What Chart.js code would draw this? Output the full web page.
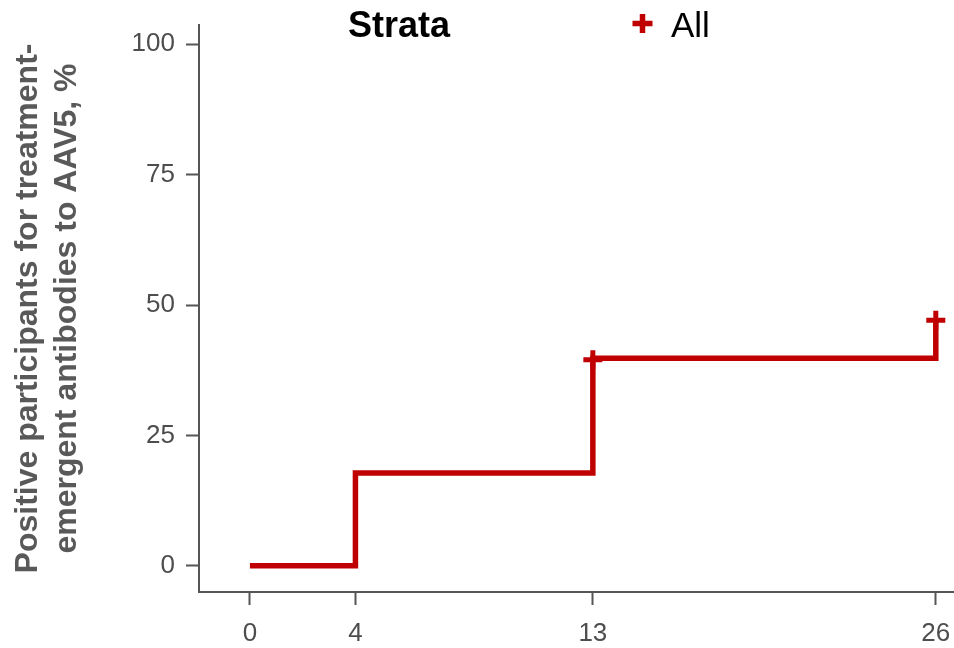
<!DOCTYPE html>
<html>
<head>
<meta charset="utf-8">
<script src="https://cdn.jsdelivr.net/npm/chart.js@4.4.1/dist/chart.umd.min.js"></script>
<style>
html,body{margin:0;padding:0;background:#fff;}
canvas{display:block;}
</style>
</head>
<body>
<canvas id="c" width="954" height="648"></canvas>
<script>
// Data (weeks, % positive)
const stepWeeks = [0, 4, 13, 26];
const stepValues = [0, 17.8, 39.8, 47.1];
const censorWeeks = [13, 26];
const censorValues = [39.5, 47.1];
const xTickValues = [0, 4, 13, 26];
const yTickValues = [0, 25, 50, 75, 100];
const legendTitle = 'Strata';
const seriesName = 'All';
const yTitleLines = ['Positive participants for treatment-', 'emergent antibodies to AAV5, %'];

const RED = '#C00000';
const AXIS = '#555555';
const TICKTXT = '#4D4D4D';
const FONT = "'Liberation Sans', Arial, sans-serif";

const legendPlugin = {
  id: 'kmLegend',
  afterDraw(chart) {
    const ctx = chart.ctx;
    ctx.save();
    ctx.textBaseline = 'alphabetic';
    ctx.textAlign = 'left';
    ctx.fillStyle = '#000';
    ctx.font = "bold 36px " + FONT;
    ctx.fillText(legendTitle, 348, 37);
    ctx.font = "35px " + FONT;
    ctx.fillText(seriesName, 671, 37);
    // legend key cross
    ctx.strokeStyle = RED;
    ctx.lineWidth = 5.5;
    ctx.beginPath();
    ctx.moveTo(632.5, 23.5); ctx.lineTo(652.5, 23.5);
    ctx.moveTo(642.5, 14); ctx.lineTo(642.5, 33);
    ctx.stroke();
    ctx.restore();
  }
};

function noPad(s) {
  s.paddingLeft = 0; s.paddingRight = 0; s.paddingTop = 0; s.paddingBottom = 0;
}

new Chart(document.getElementById('c'), {
  type: 'scatter',
  data: {
    datasets: [
      {
        label: seriesName,
        type: 'line',
        data: stepWeeks.map((x, i) => ({x, y: stepValues[i]})),
        stepped: true,
        borderColor: RED,
        borderWidth: 5.5,
        pointRadius: 0,
        fill: false,
        borderCapStyle: 'butt',
        borderJoinStyle: 'miter'
      },
      {
        label: seriesName + ' censored',
        data: censorWeeks.map((x, i) => ({x, y: censorValues[i]})),
        pointStyle: 'cross',
        pointRadius: 9.5,
        pointBorderWidth: 5,
        borderColor: RED,
        backgroundColor: RED,
        pointHoverRadius: 9.5
      }
    ]
  },
  options: {
    responsive: false,
    animation: false,
    devicePixelRatio: 1,
    layout: { autoPadding: false, padding: { top: 25, left: 0, right: 0, bottom: 0 } },
    plugins: {
      legend: { display: false },
      tooltip: { enabled: false }
    },
    scales: {
      x: {
        type: 'linear',
        min: -1.93,
        max: 26.69,
        afterBuildTicks: s => { s.ticks = xTickValues.map(v => ({value: v})); },
        afterFit: s => { s.height = 56; noPad(s); },
        grid: { display: true, drawOnChartArea: false, drawTicks: true, tickLength: 13, tickColor: AXIS, tickWidth: 2 },
        border: { display: true, color: AXIS, width: 2 },
        ticks: { color: TICKTXT, font: { family: FONT, size: 26 }, padding: 13, maxRotation: 0, autoSkip: false }
      },
      y: {
        type: 'linear',
        min: -5.04,
        max: 103.7,
        afterBuildTicks: s => { s.ticks = yTickValues.map(v => ({value: v})); },
        afterFit: s => { s.width = 199; noPad(s); },
        grid: { display: true, drawOnChartArea: false, drawTicks: true, tickLength: 13, tickColor: AXIS, tickWidth: 2 },
        border: { display: true, color: AXIS, width: 2 },
        ticks: { color: TICKTXT, font: { family: FONT, size: 26 }, padding: 11, autoSkip: false },
        title: {
          display: true,
          text: yTitleLines,
          color: '#595959',
          font: { family: FONT, size: 32, weight: 'bold', lineHeight: 1.22 },
          padding: { top: 8.5, bottom: 0 }
        }
      }
    }
  },
  plugins: [legendPlugin]
});
</script>
</body>
</html>
